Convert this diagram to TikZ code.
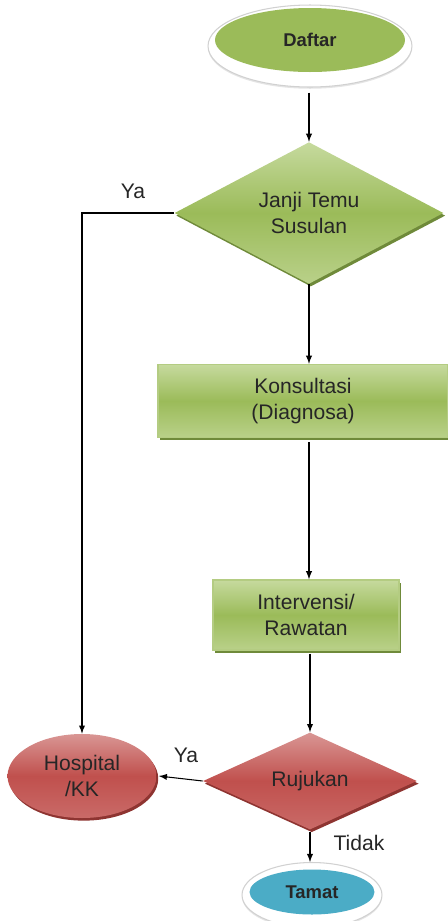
\documentclass[tikz,border=0pt]{standalone}
\usepackage{fontspec}
\setmainfont{Liberation Sans}
\usetikzlibrary{shapes.geometric,shadows}

\definecolor{flowgreen}{HTML}{9BBB59}
\definecolor{flowgreenlight}{HTML}{C6DA9E}
\definecolor{flowgreendark}{HTML}{6F8A3A}
\definecolor{flowred}{HTML}{C0504D}
\definecolor{flowredlight}{HTML}{D99694}
\definecolor{flowreddark}{HTML}{8E3431}
\definecolor{flowblue}{HTML}{4BACC6}

\begin{document}
\begin{tikzpicture}[>=latex, x=0.02cm, y=-0.02cm,
  every node/.style={font=\fontsize{12}{14.5}\selectfont, text=black!85, align=center},
  greenshade/.style={top color=flowgreenlight, bottom color=flowgreenlight!70!flowgreen,
    middle color=flowgreen, general shadow={fill=flowgreendark, shadow xshift=1pt, shadow yshift=-1.5pt}},
  redshade/.style={top color=flowredlight, bottom color=flowred!85!white,
    middle color=flowred, general shadow={fill=flowreddark, shadow xshift=1pt, shadow yshift=-1.5pt}},
  procbox/.style={rectangle, greenshade, draw=flowgreen!75!white, line width=0.8pt, inner sep=0pt},
  choice/.style={diamond, inner sep=0pt},
  ring/.style={ellipse, fill=white, draw=black!18, line width=0.6pt,
    general shadow={fill=black!10, shadow yshift=-1pt}},
  terminal/.style={ellipse, inner sep=0pt, font=\fontsize{10.5}{12}\selectfont\bfseries},
  link/.style={->, line width=0.6pt}]

\useasboundingbox (0,0) rectangle (448,921);

% Start and end terminals
\node [ring, minimum width=4.08cm, minimum height=1.64cm] (daftar-ring) at (310,46) {};
\node [terminal, fill=flowgreen, minimum width=3.8cm, minimum height=1.28cm] (daftar) at (310,40) {Daftar};

\node [ring, minimum width=2.8cm, minimum height=1.3cm] (tamat-ring) at (312,895) {};
\node [terminal, fill=flowblue, minimum width=2.5cm, minimum height=0.9cm] (tamat) at (312,892) {Tamat};

% Decisions
\node [choice, greenshade, minimum width=5.38cm, minimum height=2.52cm] (janji) at (309,213) {Janji Temu\\Susulan};
\node [choice, redshade, minimum width=4.28cm, minimum height=1.46cm] (rujukan) at (310,781) {Rujukan};

% Process boxes
\node [procbox, minimum width=5.8cm, minimum height=1.46cm] (konsultasi) at (303,401) {Konsultasi\\(Diagnosa)};
\node [procbox, minimum width=3.72cm, minimum height=1.4cm] (intervensi) at (306,615) {Intervensi/\\Rawatan};

\node [ellipse, redshade, inner sep=0pt, minimum width=2.98cm, minimum height=1.68cm] (hospital) at (82,776) {Hospital\\/KK};

% Connectors (all vertical ones on the centre line of the decisions)
\draw [link] ([yshift=-0.1cm]janji.north |- daftar-ring.south) -- (janji.north);
\draw [link] (janji.south) -- (janji.south |- konsultasi.north);
\draw [link] ([yshift=-0.08cm]janji.south |- konsultasi.south) -- (janji.south |- intervensi.north);
\draw [link] ([yshift=-0.06cm]rujukan.north |- intervensi.south) -- (rujukan.north);
\draw [link] (janji.west) -| (hospital.north);
\draw [link] (rujukan.west) -- ([xshift=0.04cm]hospital.east);
\draw [link] ([yshift=-0.04cm]rujukan.south) -- (rujukan.south |- tamat-ring.north);

% Branch labels
\node at (133,191) {Ya};
\node at (186,755) {Ya};
\node at (359,843) {Tidak};

\end{tikzpicture}
\end{document}
